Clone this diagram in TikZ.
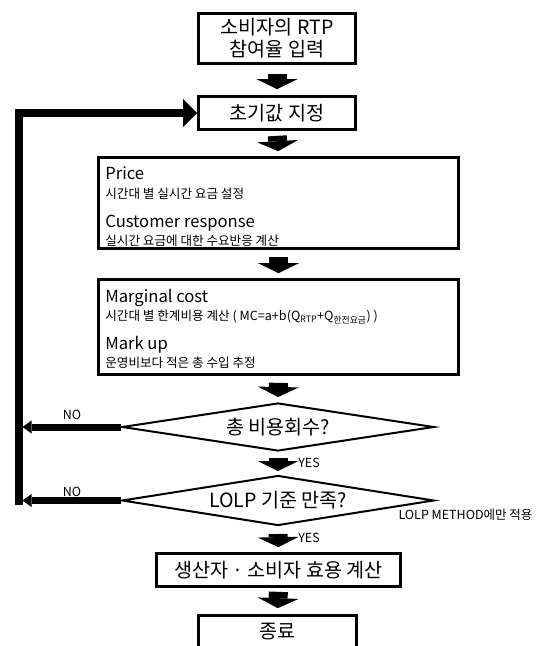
\documentclass[tikz,border=0pt]{standalone}
\usepackage{fontspec}
\setmainfont{Noto Sans CJK KR}
\usetikzlibrary{arrows.meta,shapes.geometric}

\newcommand\bigtxt{\fontsize{19.6}{23}\selectfont}
\newcommand\headtxt{\fontsize{16.6}{20}\selectfont}
\newcommand\subtxt{\fontsize{12.6}{15}\selectfont}
\newcommand\tagtxt{\fontsize{12.5}{15}\selectfont}

\begin{document}
\begin{tikzpicture}[
  x=1pt, y=-1pt,
  box/.style={draw, line width=2.7pt, align=center, inner sep=0pt, font=\bigtxt},
  widebox/.style={draw, line width=2.7pt, inner sep=0pt, minimum width=360pt},
  decision/.style={draw, diamond, line width=2pt, aspect=6.5, inner sep=0pt, minimum width=312pt, font=\bigtxt},
  head/.style={anchor=base west, inner sep=0pt, font=\headtxt},
  sub/.style={anchor=base west, inner sep=0pt, font=\subtxt},
  tag/.style={inner sep=0pt, font=\tagtxt},
  bigarrow/.style={line width=19pt, -{Triangle[width=41pt,length=10pt,line width=0pt]}},
  looparrow/.style={line width=7.5pt, line join=miter, -{Triangle[width=28pt,length=14pt,line width=0pt]}},
  noarrow/.style={line width=7pt, -{Triangle[width=13pt,length=9pt,line width=0pt]}, shorten >=3.5pt}
]
\useasboundingbox (0,0) rectangle (541,646);

% main column
\node[box, minimum width=157pt, minimum height=50pt] (b1) at (277,38.5) {소비자의 RTP\\[-1pt]참여율 입력};
\node[box, minimum width=157pt, minimum height=33pt] (b2) at (277,113) {초기값 지정};
\node[widebox, minimum height=91pt] (b3) at (278.5,203) {};
\node[widebox, minimum height=95pt] (b4) at (278.5,327) {};
\node[decision, minimum height=48pt] (d1) at (278,427) {총 비용회수?};
\node[decision, minimum height=50pt] (d2) at (278,500.5) {LOLP 기준 만족?};
\node[box, minimum width=244pt, minimum height=33pt] (b5) at (278.5,570) {생산자 · 소비자 효용 계산};
\node[box, minimum width=158pt, minimum height=33pt] (b6) at (277.5,632) {종료};

% box texts
\node[head] (price) at ([xshift=8pt,yshift=-23pt]b3.north west) {Price};
\node[sub] (pricetxt) at ([xshift=8pt,yshift=-42pt]b3.north west) {시간대 별 실시간 요금 설정};
\node[head] (resp) at ([xshift=8pt,yshift=-71pt]b3.north west) {Customer response};
\node[sub] (resptxt) at ([xshift=8pt,yshift=-89pt]b3.north west) {실시간 요금에 대한 수요반응 계산};
\node[head] (mc) at ([xshift=8pt,yshift=-24pt]b4.north west) {Marginal cost};
\node[sub] (mctxt) at ([xshift=8pt,yshift=-42pt]b4.north west) {시간대 별 한계비용 계산 ( MC=a+b(Q\textsubscript{RTP}+Q\textsubscript{한전요금}) )};
\node[head] (markup) at ([xshift=8pt,yshift=-71pt]b4.north west) {Mark up};
\node[sub] (markuptxt) at ([xshift=8pt,yshift=-89pt]b4.north west) {운영비보다 적은 총 수입 추정};

% flow arrows
\draw[bigarrow, shorten <=9pt, shorten >=6pt] (b1.south) -- (b2.north);
\draw[bigarrow, shorten <=5pt, shorten >=5pt] (b2.south) -- (b3.north);
\draw[bigarrow, shorten <=7pt, shorten >=5pt] (b3.south) -- (b4.north);
\draw[bigarrow, shorten <=7pt, shorten >=5pt] (b4.south) -- (d1.north);
\draw[bigarrow, shorten <=6pt, shorten >=3.5pt] (d1.south) -- (d2.north);
\draw[bigarrow, shorten <=7.5pt, shorten >=5pt] (d2.south) -- (b5.north);
\draw[bigarrow, shorten <=4pt, shorten >=6pt] (b5.south) -- (b6.north);

% loop back
\coordinate (turn) at (19,504.5);
\draw[looparrow] (turn) |- (b2.west);
\draw[noarrow] (d1.west) -- (d1.west -| turn);
\draw[noarrow] (d2.west) -- (d2.west -| turn);

% labels
\node[tag] (no1) at (72,415) {NO};
\node[tag] (no2) at (72,492) {NO};
\node[tag] (yes1) at (309,463) {YES};
\node[tag] (yes2) at (309,538) {YES};
\node[tag] (note) at (465.5,515) {LOLP METHOD에만 적용};
\end{tikzpicture}
\end{document}
